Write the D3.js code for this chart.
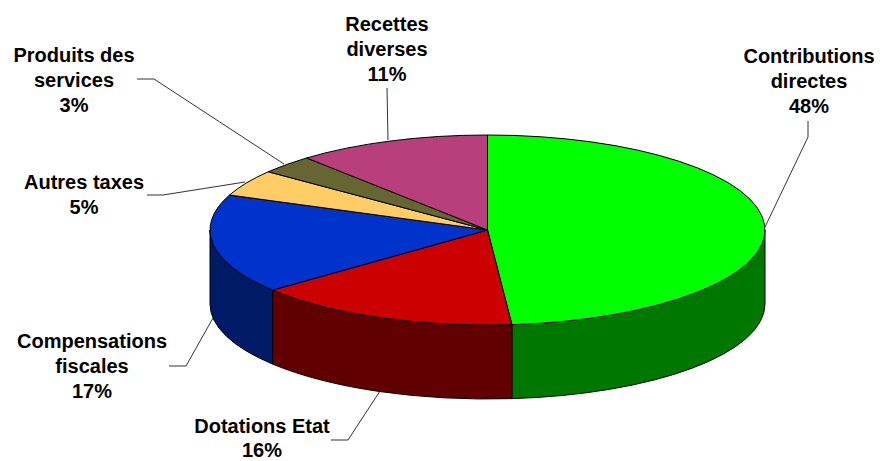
<!DOCTYPE html>
<html>
<head>
<meta charset="utf-8">
<script src="https://cdnjs.cloudflare.com/ajax/libs/d3/7.8.5/d3.min.js"></script>
<style>
  html, body { margin: 0; padding: 0; background: #fff; }
  text { font-family: "Liberation Sans", Arial, sans-serif; font-weight: bold; font-size: 20px; fill: #000; }
</style>
</head>
<body>
<div id="chart"></div>
<script>
// data
var categories = ["Contributions directes", "Dotations Etat", "Compensations fiscales", "Autres taxes", "Produits des services", "Recettes diverses"];
var shares = [48.6, 15.5, 16.9, 4.5, 3.2, 11.3];
var percentLabels = ["48%", "16%", "17%", "5%", "3%", "11%"];

var topColors = ["#00ff00", "#cc0000", "#0033cc", "#ffcc66", "#666633", "#b83e7c"];
var sideColors = ["#007800", "#600000", "#001a66", "#806633", "#333319", "#5c1f3e"];

// label placement: text lines with centre x / first baseline, and leader polyline
var labelLayout = [
  {lines: ["Contributions", "directes"], x: 809, y: 63, gap: 25, leader: [[765, 227], [808, 137], [808, 121]]},
  {lines: ["Dotations Etat"], x: 262, y: 433, gap: 23.5, leader: [[380, 391], [348, 440], [331, 440]]}, // tight: last line sits on the bottom edge
  {lines: ["Compensations", "fiscales"], x: 92, y: 348, gap: 25, leader: [[213, 318], [186, 366], [169, 366]]},
  {lines: ["Autres taxes"], x: 84, y: 189, gap: 25, leader: [[245, 182], [163, 195], [147, 195]]},
  {lines: ["Produits des", "services"], x: 74, y: 62, gap: 25, leader: [[284, 164], [154, 79], [137, 79]]},
  {lines: ["Recettes", "diverses"], x: 387, y: 31, gap: 25, leader: [[388, 140], [387, 88]]}
];

var svgWidth = 880;
var svgHeight = 461;
var depth = 74;

var svg = d3.select("#chart")
  .append("svg")
    .attr("width", svgWidth)
    .attr("height", svgHeight)
    .style("display", "block");

// unit circle -> squashed ellipse
var x = d3.scaleLinear().domain([-1, 1]).range([210, 765]);
var y = d3.scaleLinear().domain([-1, 1]).range([135, 325]);
var rx = (x(1) - x(-1)) / 2;
var ry = (y(1) - y(-1)) / 2;

var pie = d3.pie().sort(null).value(function(d) { return d; });
var arcs = pie(shares);

function px(a) { return x(Math.sin(a)); }
function py(a) { return y(-Math.cos(a)); }

function topPath(d) {
  var large = d.endAngle - d.startAngle > Math.PI ? 1 : 0;
  return "M" + x(0) + "," + y(0) +
    "L" + px(d.startAngle) + "," + py(d.startAngle) +
    "A" + rx + "," + ry + " 0 " + large + " 1 " + px(d.endAngle) + "," + py(d.endAngle) + "Z";
}

// outer wall, only the front half of the ellipse shows
function sidePath(d) {
  var a0 = Math.max(d.startAngle, Math.PI / 2);
  var a1 = Math.min(d.endAngle, Math.PI * 1.5);
  if (a1 <= a0) return null;
  return "M" + px(a0) + "," + py(a0) +
    "A" + rx + "," + ry + " 0 0 1 " + px(a1) + "," + py(a1) +
    "L" + px(a1) + "," + (py(a1) + depth) +
    "A" + rx + "," + ry + " 0 0 0 " + px(a0) + "," + (py(a0) + depth) + "Z";
}

// leaders go under the pie
svg.append("g").selectAll("polyline")
  .data(labelLayout)
  .enter()
  .append("polyline")
    .attr("points", function(d) { return d.leader.join(" "); })
    .attr("fill", "none")
    .attr("stroke", "#333")
    .attr("stroke-width", 1);

svg.append("g").selectAll("path")
  .data(arcs)
  .enter()
  .append("path")
    .attr("d", sidePath)
    .attr("fill", function(d, i) { return sideColors[i]; })
    .attr("stroke", "#000")
    .attr("stroke-width", 1);

svg.append("g").selectAll("path")
  .data(arcs)
  .enter()
  .append("path")
    .attr("d", topPath)
    .attr("fill", function(d, i) { return topColors[i]; })
    .attr("stroke", "#000")
    .attr("stroke-width", 1)
    .attr("stroke-linejoin", "round");

// labels
var label = svg.append("g").selectAll("text")
  .data(labelLayout)
  .enter()
  .append("text")
    .attr("text-anchor", "middle")
    .attr("x", function(d) { return d.x; })
    .attr("y", function(d) { return d.y; });

label.each(function(d, i) {
  var t = d3.select(this);
  d.lines.concat([percentLabels[i]]).forEach(function(line, k) {
    t.append("tspan")
      .attr("x", d.x)
      .attr("dy", k === 0 ? 0 : d.gap)
      .text(line);
  });
});
</script>
</body>
</html>
